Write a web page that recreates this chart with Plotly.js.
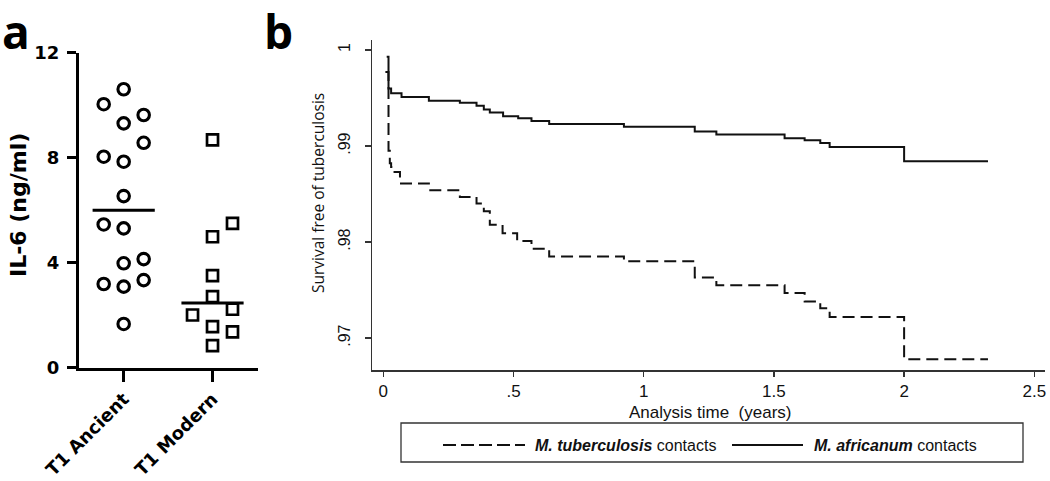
<!DOCTYPE html>
<html>
<head>
<meta charset="utf-8">
<script src="https://cdn.plot.ly/plotly-3.0.1.min.js"></script>
<style>html,body{margin:0;padding:0;background:#fff;}#chart{width:1050px;height:481px;}</style>
</head>
<body>
<div id="chart"></div>
<script>
// ---- Panel a data ----
const categories = ["T1 Ancient", "T1 Modern"];
const ancientIL6 = [10.60, 10.03, 9.62, 9.30, 8.56, 8.03, 7.84, 6.53, 5.45, 5.30, 4.13, 3.97, 3.33, 3.18, 3.08, 1.66];
const ancientCol = [0, -1, 1, 0, 1, -1, 0, 0, -1, 0, 1, 0, 1, -1, 0, 0];
const modernIL6 = [8.67, 5.49, 4.98, 3.50, 2.70, 2.00, 2.22, 1.56, 1.36, 0.83];
const modernCol = [0, 1, 0, 0, 0, -1, 1, 0, 1, 0];
const il6Ticks = [0, 4, 8, 12];

// ---- Panel b data (Kaplan-Meier) ----
const tbTime = [0.008, 0.02, 0.025, 0.03, 0.038, 0.064, 0.175, 0.294, 0.358, 0.386, 0.409, 0.458, 0.514, 0.569, 0.637, 0.924, 1.196, 1.279, 1.541, 1.618, 1.678, 1.714, 2.0, 2.322];
const tbSurv = [0.9977, 0.9895, 0.9882, 0.9878, 0.9873, 0.9861, 0.9854, 0.9847, 0.9840, 0.9832, 0.9818, 0.9809, 0.9801, 0.9793, 0.9785, 0.9780, 0.9763, 0.9755, 0.9747, 0.9738, 0.9731, 0.9722, 0.9678, 0.9678];
const afTime = [0.013, 0.02, 0.03, 0.07, 0.175, 0.294, 0.358, 0.386, 0.409, 0.46, 0.518, 0.569, 0.637, 0.924, 1.196, 1.279, 1.541, 1.618, 1.678, 1.714, 2.0, 2.322];
const afSurv = [0.9993, 0.9960, 0.9955, 0.9951, 0.9947, 0.9945, 0.9942, 0.9938, 0.9935, 0.9931, 0.9929, 0.9926, 0.9923, 0.9920, 0.9915, 0.9912, 0.9908, 0.9906, 0.9903, 0.9899, 0.9884, 0.9884];
const timeTicks = [0, 0.5, 1, 1.5, 2, 2.5];
const timeTickText = ["0", ".5", "1", "1.5", "2", "2.5"];
const survTicks = [0.97, 0.98, 0.99, 1];
const survTickText = [".97", ".98", ".99", "1"];
const seriesNames = ["M. tuberculosis contacts", "M. africanum contacts"];

function median(a) {
  const s = a.slice().sort((p, q) => p - q);
  const n = s.length;
  return n % 2 ? s[(n - 1) / 2] : (s[n / 2 - 1] + s[n / 2]) / 2;
}
function legendLabel(name) {
  const i = name.indexOf(' contacts');
  return '<b><i>' + name.slice(0, i) + '</i></b>' + name.slice(i);
}

const JIT = 0.225, HALF = 0.35;
const W = 1050, H = 481;
const px = v => v / W, py = v => (H - v) / H;

const traces = [
  {x: ancientCol.map(c => 0 + c * JIT), y: ancientIL6, xaxis: 'x', yaxis: 'y', mode: 'markers', type: 'scatter',
   marker: {symbol: 'circle-open', size: 11.5, color: '#000', line: {width: 3.1, color: '#000'}}, showlegend: false},
  {x: modernCol.map(c => 1 + c * JIT), y: modernIL6, xaxis: 'x', yaxis: 'y', mode: 'markers', type: 'scatter',
   marker: {symbol: 'square-open', size: 11, color: '#000', line: {width: 2.7, color: '#000'}}, showlegend: false},
  {x: [0 - HALF, 0 + HALF], y: [median(ancientIL6), median(ancientIL6)], xaxis: 'x', yaxis: 'y', mode: 'lines', type: 'scatter',
   line: {color: '#000', width: 3}, showlegend: false},
  {x: [1 - HALF, 1 + HALF], y: [median(modernIL6), median(modernIL6)], xaxis: 'x', yaxis: 'y', mode: 'lines', type: 'scatter',
   line: {color: '#000', width: 3}, showlegend: false},
  {x: tbTime, y: tbSurv, xaxis: 'x2', yaxis: 'y2', mode: 'lines', type: 'scatter', name: seriesNames[0],
   line: {color: '#111', width: 2, shape: 'hv', dash: '12px,6px'}, showlegend: false},
  {x: afTime, y: afSurv, xaxis: 'x2', yaxis: 'y2', mode: 'lines', type: 'scatter', name: seriesNames[1],
   line: {color: '#111', width: 2, shape: 'hv'}, showlegend: false}
];

const boldFam = 'DejaVu Sans, Arial, sans-serif';
const plainFam = 'Liberation Sans, Arial, sans-serif';
const LEG_Y = 445;

const layout = {
  width: W, height: H,
  margin: {l: 0, r: 0, t: 0, b: 0},
  paper_bgcolor: '#fff', plot_bgcolor: '#fff',
  showlegend: false,
  xaxis: {
    domain: [px(79), px(258)], range: [-0.503, 1.512],
    tickvals: [0, 1], ticktext: categories.map(c => '<b>' + c + '</b>'), tickangle: -45,
    ticks: 'outside', ticklen: 11, tickwidth: 3, tickcolor: '#000',
    showline: true, linewidth: 3, linecolor: '#000', showgrid: false, zeroline: false,
    tickfont: {family: boldFam, size: 18, color: '#000'}, anchor: 'y'
  },
  yaxis: {
    domain: [py(367.5), py(52.5)], range: [0, 12],
    tickvals: il6Ticks, ticktext: il6Ticks.map(v => '<b>' + v + '</b>'),
    ticks: 'outside', ticklen: 9, tickwidth: 3, tickcolor: '#000', ticklabelstandoff: 4,
    showline: true, linewidth: 3, linecolor: '#000', showgrid: false, zeroline: false,
    tickfont: {family: boldFam, size: 18, color: '#000'}, anchor: 'x'
  },
  xaxis2: {
    domain: [px(372), px(1045)], range: [-0.0434, 2.541],
    tickvals: timeTicks, ticktext: timeTickText,
    ticks: 'outside', ticklen: 5, tickwidth: 1.3, tickcolor: '#333',
    showline: true, linewidth: 1.5, linecolor: '#333', showgrid: false, zeroline: false,
    tickfont: {family: plainFam, size: 17, color: '#111'}, anchor: 'y2'
  },
  yaxis2: {
    domain: [py(370), py(40)], range: [0.96667, 1.00104],
    tickvals: survTicks, ticktext: survTickText, tickangle: -90,
    ticks: 'outside', ticklen: 6, tickwidth: 1.3, tickcolor: '#333', ticklabelstandoff: 8,
    showline: true, linewidth: 1.5, linecolor: '#333', showgrid: false, zeroline: false,
    tickfont: {family: plainFam, size: 16, color: '#111'}, anchor: 'x2'
  },
  annotations: [
    {text: '<b>a</b>', xref: 'paper', yref: 'paper', x: px(0), y: py(31), xanchor: 'left', yanchor: 'middle',
     showarrow: false, font: {family: 'Open Sans, Arial, sans-serif', size: 46, color: '#000'}},
    {text: '<b>b</b>', xref: 'paper', yref: 'paper', x: px(262), y: py(31), xanchor: 'left', yanchor: 'middle',
     showarrow: false, font: {family: 'Open Sans, Arial, sans-serif', size: 46, color: '#000'}},
    {text: '<b>IL-6 (ng/ml)</b>', xref: 'paper', yref: 'paper', x: px(19), y: py(205), textangle: -90,
     xanchor: 'center', yanchor: 'middle',
     showarrow: false, font: {family: boldFam, size: 22, color: '#000'}},
    {text: 'Survival free of tuberculosis', xref: 'paper', yref: 'paper', x: px(318), y: py(193), textangle: -90,
     xanchor: 'center', yanchor: 'middle',
     showarrow: false, font: {family: 'Open Sans, Arial, sans-serif', size: 15.5, color: '#111'}},
    {text: 'Analysis time  (years)', xref: 'paper', yref: 'paper', x: px(710), y: py(412),
     xanchor: 'center', yanchor: 'middle',
     showarrow: false, font: {family: plainFam, size: 17, color: '#111'}},
    {text: legendLabel(seriesNames[0]), xref: 'paper', yref: 'paper', x: px(533), y: py(LEG_Y),
     xanchor: 'left', yanchor: 'middle',
     showarrow: false, font: {family: plainFam, size: 16, color: '#111'}},
    {text: legendLabel(seriesNames[1]), xref: 'paper', yref: 'paper', x: px(812), y: py(LEG_Y),
     xanchor: 'left', yanchor: 'middle',
     showarrow: false, font: {family: plainFam, size: 16, color: '#111'}}
  ],
  shapes: [
    {type: 'rect', xref: 'paper', yref: 'paper', x0: px(401), x1: px(1023), y0: py(462), y1: py(423),
     line: {color: '#333', width: 1.3}},
    {type: 'line', xref: 'paper', yref: 'paper', x0: px(443), x1: px(525), y0: py(LEG_Y), y1: py(LEG_Y),
     line: {color: '#111', width: 2, dash: '13px,5px'}},
    {type: 'line', xref: 'paper', yref: 'paper', x0: px(732), x1: px(803), y0: py(LEG_Y), y1: py(LEG_Y),
     line: {color: '#111', width: 2}}
  ]
};

Plotly.newPlot('chart', traces, layout, {displayModeBar: false, staticPlot: true});
</script>
</body>
</html>
